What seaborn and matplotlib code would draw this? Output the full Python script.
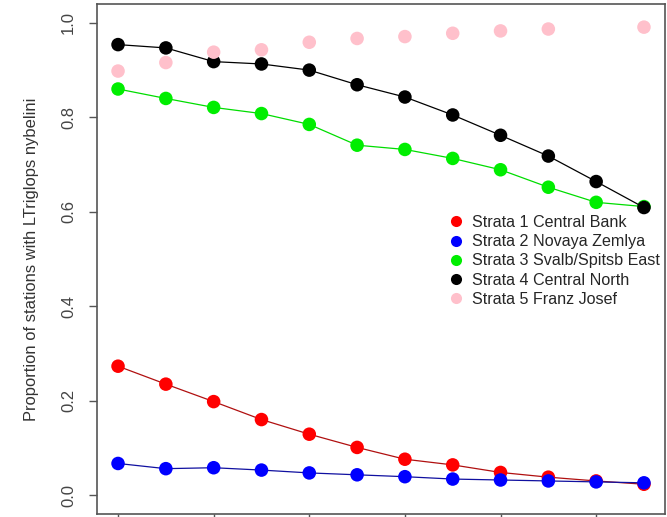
import numpy as np
import pandas as pd
import matplotlib
matplotlib.use('Agg')
import matplotlib.pyplot as plt
import seaborn as sns
from matplotlib.lines import Line2D

# x positions (tick labels are cut off in the original)
steps = list(range(12))
strata1 = [0.273, 0.235, 0.198, 0.160, 0.129, 0.101, 0.076, 0.064, 0.048, 0.038, 0.030, 0.023]
strata2 = [0.067, 0.056, 0.058, 0.053, 0.047, 0.043, 0.039, 0.034, 0.032, 0.030, 0.028, 0.026]
strata3 = [0.860, 0.840, 0.821, 0.808, 0.785, 0.741, 0.732, 0.713, 0.689, 0.652, 0.620, 0.611]
strata4 = [0.954, 0.947, 0.918, 0.913, 0.900, 0.869, 0.843, 0.805, 0.762, 0.718, 0.664, 0.609]
strata5 = [0.898, 0.916, 0.938, 0.943, 0.959, 0.967, 0.971, 0.978, 0.983, 0.987, np.nan, 0.991]

names = ['Strata 1 Central Bank', 'Strata 2 Novaya Zemlya', 'Strata 3 Svalb/Spitsb East',
         'Strata 4 Central North', 'Strata 5 Franz Josef']
point_cols = ['#ff0000', '#0000ff', '#00ee00', '#000000', '#ffc0cb']
line_cols = ['#b01010', '#1010a0', '#00dd00', '#000000', None]

sns.set_style('white')
plt.rcParams['font.family'] = ['Liberation Sans', 'DejaVu Sans']

fig = plt.figure(figsize=(6.67, 5.17), dpi=100)
ax = fig.add_axes([97/667, 3/517, 568/667, 510/517])

series = [strata1, strata2, strata3, strata4, strata5]
order = [4, 0, 1, 2, 3]
for i in order:
    df = pd.DataFrame({'x': steps, 'y': series[i]})
    if line_cols[i] is not None:
        sns.lineplot(data=df, x='x', y='y', color=line_cols[i], linewidth=0.9, ax=ax, zorder=2 + i)
    sns.scatterplot(data=df, x='x', y='y', color=point_cols[i], s=95, edgecolor='none',
                    ax=ax, zorder=2.5 + i)

ax.set_xlim(-0.44, 11.44)
ax.set_ylim(-0.04, 1.04)
ax.set_xticks([0, 2, 4, 6, 8, 10])
ax.set_xticklabels([])
ax.set_yticks([0, 0.2, 0.4, 0.6, 0.8, 1.0])
ax.set_yticklabels(['0.0', '0.2', '0.4', '0.6', '0.8', '1.0'], rotation=90, va='center')
ax.tick_params(axis='both', direction='out', length=6, width=1, color='#555555',
               labelsize=12, labelcolor='#444444', pad=9, left=True, bottom=True)
for s in ax.spines.values():
    s.set_color('#555555')
    s.set_linewidth(1.2)
ax.set_xlabel('')
ax.set_ylabel('Proportion of stations with LTriglops nybelini', fontsize=11.9, color='#333333',
              labelpad=16)

handles = [Line2D([], [], linestyle='none', marker='o', markersize=8, color=c, markeredgewidth=0)
           for c in point_cols]
fig.legend(handles, names, loc='upper left', bbox_to_anchor=(449/667, 1 - 215/517),
           frameon=False, fontsize=11.6, labelspacing=0.26, handlelength=0.9,
           handletextpad=0.55, borderpad=0, borderaxespad=0)

fig.savefig('out.png', dpi=100)
